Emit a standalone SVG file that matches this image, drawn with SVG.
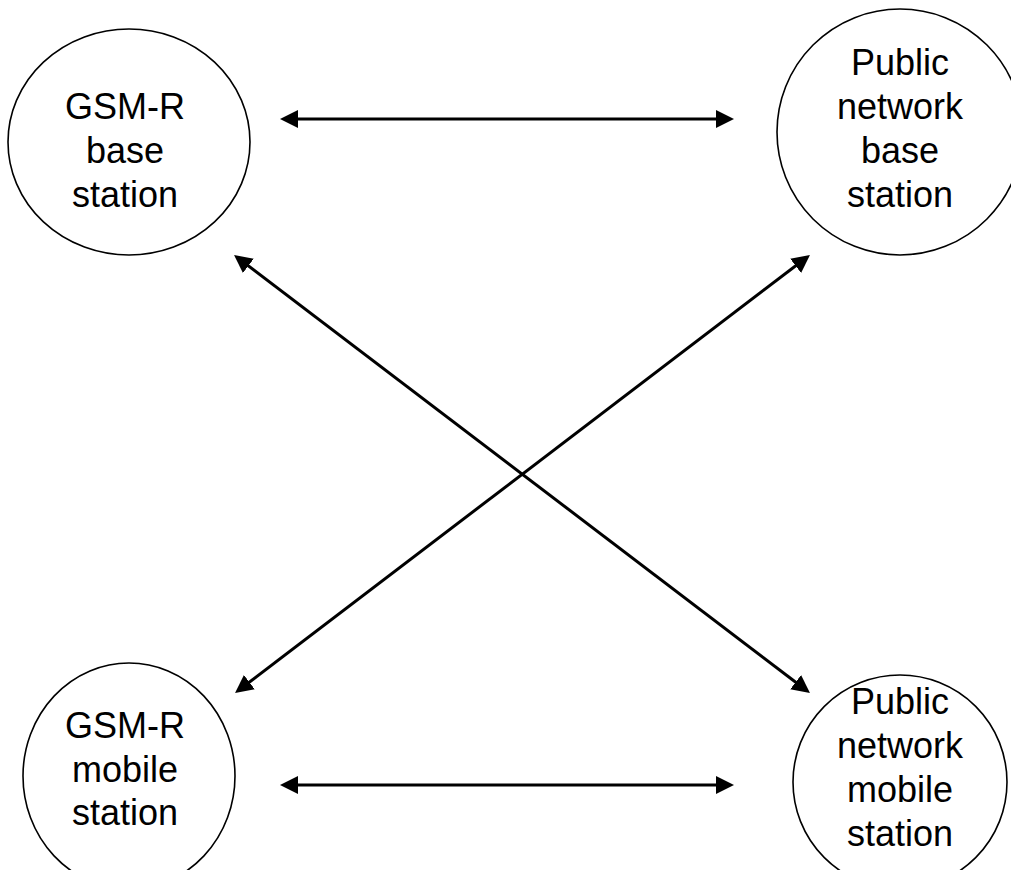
<svg xmlns="http://www.w3.org/2000/svg" width="1011" height="870" viewBox="0 0 1011 870">
  <defs>
    <marker id="head" viewBox="0 0 18 18" markerWidth="18" markerHeight="18" refX="8" refY="9" markerUnits="userSpaceOnUse" orient="auto-start-reverse">
      <path d="M0,0 L18,9 L0,18 Z" fill="#000000"/>
    </marker>
  </defs>
  <rect width="1011" height="870" fill="#ffffff"/>

  <!-- nodes: white ellipses with centred Arial-metric labels -->
  <g font-family="'Liberation Sans', Arial, sans-serif" font-size="36" fill="#000000" text-anchor="middle">
    <g id="gsmr-base">
      <ellipse cx="129" cy="142" rx="121" ry="113" fill="#ffffff" stroke="#000000" stroke-width="1.6"/>
      <text x="125" y="119">GSM-R</text>
      <text x="125" y="163">base</text>
      <text x="125" y="207">station</text>
    </g>

    <g id="public-base">
      <ellipse cx="900" cy="132" rx="123" ry="123" fill="#ffffff" stroke="#000000" stroke-width="1.6"/>
      <text x="900" y="75">Public</text>
      <text x="900" y="119">network</text>
      <text x="900" y="163">base</text>
      <text x="900" y="207">station</text>
    </g>

    <g id="gsmr-mobile">
      <ellipse cx="129" cy="776" rx="106" ry="113" fill="#ffffff" stroke="#000000" stroke-width="1.6"/>
      <text x="125" y="738">GSM-R</text>
      <text x="125" y="782">mobile</text>
      <text x="125" y="825">station</text>
    </g>

    <g id="public-mobile">
      <ellipse cx="900" cy="782" rx="107" ry="107" fill="#ffffff" stroke="#000000" stroke-width="1.6"/>
      <text x="900" y="714">Public</text>
      <text x="900" y="758">network</text>
      <text x="900" y="802">mobile</text>
      <text x="900" y="846">station</text>
    </g>
  </g>

  <!-- two-way links -->
  <g id="connectors" stroke="#000000" stroke-width="3" fill="none">
    <line x1="290" y1="119" x2="724" y2="119" marker-start="url(#head)" marker-end="url(#head)"/>
    <line x1="290" y1="785" x2="724" y2="785" marker-start="url(#head)" marker-end="url(#head)"/>
    <line x1="242" y1="261" x2="802" y2="687" marker-start="url(#head)" marker-end="url(#head)"/>
    <line x1="802" y1="261" x2="243" y2="687" marker-start="url(#head)" marker-end="url(#head)"/>
  </g>
</svg>
